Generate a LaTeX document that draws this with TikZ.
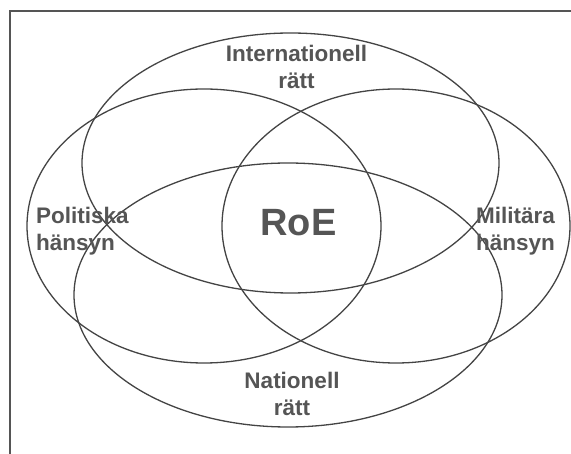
\documentclass[tikz,border=0pt]{standalone}
\usepackage{fontspec}
\setmainfont{Liberation Sans}
\definecolor{ellcol}{HTML}{444444}
\definecolor{txtcol}{HTML}{555555}
\definecolor{framecol}{HTML}{555555}
\begin{document}
\begin{tikzpicture}[x=1pt,y=-1pt,
  ell/.style={draw=ellcol, line width=1.3pt},
  lbl/.style={font=\fontsize{22.5}{27}\selectfont\bfseries, text=txtcol, inner sep=0pt, anchor=base},
  big/.style={font=\fontsize{38}{44}\selectfont\bfseries, text=txtcol, inner sep=0pt, anchor=base}
]
\useasboundingbox (0,0) rectangle (571,454);
\fill[white] (0,0) rectangle (571,454);
\draw[line width=2pt, framecol] (10,454) -- (10,11) -- (571,11);
% ellipses
\draw[ell] (290.5,163) ellipse [x radius=208.5, y radius=130];
\draw[ell] (204,226) ellipse [x radius=177, y radius=137];
\draw[ell] (396,226) ellipse [x radius=174, y radius=137];
\draw[ell] (288,295) ellipse [x radius=214, y radius=132];
% labels (base anchor = baseline of the last line)
\node[lbl, align=center] (intl) at (296.5,89) {Internationell\\rätt};
\node[lbl, align=left] (pol) at (36,251) [anchor=base west] {Politiska\\hänsyn};
\node[lbl, align=left] (mil) at (476,251) [anchor=base west] {Militära\\hänsyn};
\node[lbl, align=center] (nat) at (292,416) {Nationell\\rätt};
\node[big] (roe) at (298.5,236) {RoE};
\end{tikzpicture}
\end{document}
